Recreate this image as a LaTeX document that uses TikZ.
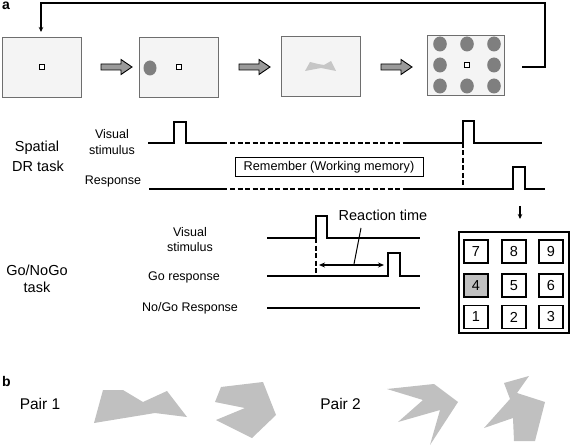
\documentclass[tikz,border=0pt]{standalone}
\usepackage{fontspec}
\setmainfont{Liberation Sans}
\usetikzlibrary{arrows.meta}
\definecolor{panelfill}{HTML}{F4F4F4}
\definecolor{paneldraw}{HTML}{6E6E6E}
\definecolor{dotgray}{HTML}{7F7F7F}
\definecolor{arrowgray}{HTML}{9A9A9A}
\definecolor{shapegray}{HTML}{C0C0C0}
\definecolor{blobgray}{HTML}{C6C6C6}
\newcommand\fsz[1]{\fontsize{#1}{#1}\selectfont}
\begin{document}
\begin{tikzpicture}[x=1pt,y=-1pt,
  panel/.style={draw=paneldraw,fill=panelfill,line width=0.8pt,minimum width=79pt,minimum height=60pt,inner sep=0pt,rectangle},
  fixsq/.style={draw=black,fill=white,line width=1pt,minimum size=4.5pt,inner sep=0pt,rectangle},
  dotc/.style={fill=dotgray},
  barrow/.pic={\draw[fill=arrowgray,line width=0.9pt,line join=miter] (0,-3) -- (20,-3) -- (20,-7.5) -- (31,0) -- (20,7.5) -- (20,3) -- (0,3) -- cycle;},
  wave/.style={line width=1.4pt,line join=miter},
  dashline/.style={dash pattern=on 5pt off 2.5pt},
  lbl/.style={inner sep=0pt,font=\fsz{12.5}},
  biglbl/.style={inner sep=0pt,font=\fsz{14.5}},
  key/.style={draw=black,line width=1.5pt,minimum width=24pt,minimum height=23pt,inner sep=0pt,font=\fsz{14.5}},
  tip/.style={-{Stealth[length=5pt,width=4.5pt]}}
]
\useasboundingbox (0,0) rectangle (572,446);
\fill[white] (0,0) rectangle (572,446);

% ---------- labels a / b
\node[anchor=base west,inner sep=0pt,font=\bfseries\fsz{14}] (la) at (2,10) {a};
\node[anchor=base west,inner sep=0pt,font=\bfseries\fsz{14}] (lb) at (2,386) {b};

% ---------- top row panels
\node[panel] (p1) at (42,67) {};
\node[panel] (p2) at (178.5,67) {};
\node[panel] (p3) at (320.5,66) {};
\node[panel,minimum width=77pt] (p4) at (465.5,65) {};

\node[fixsq] (f1) at (42,67) {};
\fill[dotc] (150,68) ellipse [x radius=6.5pt,y radius=7.5pt];
\node[fixsq] (f2) at (179,67) {};
\fill[blobgray] (305,71) -- (310,62) -- (318,64) -- (324,65) -- (331,61) -- (336,71) -- (321,68) -- cycle;
\foreach \cx in {440,467,494}{
  \foreach \cy in {44,65,86}{
    \ifnum\cx=467 \ifnum\cy=65 \else \fill[dotc] (\cx,\cy) ellipse [x radius=6.8pt,y radius=7.5pt]; \fi
    \else \fill[dotc] (\cx,\cy) ellipse [x radius=6.8pt,y radius=7.5pt]; \fi
  }
}
\node[fixsq] (f4) at (467,65) {};

\pic at (101,67) {barrow};
\pic at (239,67) {barrow};
\pic at (381,67) {barrow};

% feedback loop
\coordinate (fb0) at (522,67);
\coordinate (fb1) at (545,67);
\coordinate (fb2) at (545,3);
\coordinate (fb3) at (41,3);
\coordinate (fb4) at (41,32);
\draw[line width=1.1pt,tip] (fb0) -- (fb1) -- (fb2) -- (fb3) -- (fb4);

% ---------- Spatial DR task
\node[biglbl] (sp1) at (37,148) {Spatial};
\node[biglbl] (sp2) at (38,166) {DR task};
\node[lbl] (vs1) at (112,134) {Visual};
\node[lbl] (vs2) at (112,150) {stimulus};
\node[lbl] (rs1) at (113,181) {Response};

\draw[wave] (148,143) -- (174,143) -- (174,122) -- (186,122) -- (186,143) -- (227,143);
\draw[wave,dashline] (230,143) -- (405,143);
\draw[wave] (405,143) -- (463,143) -- (463,121) -- (474,121) -- (474,143) -- (542,143);
\draw[line width=1.1pt,dashline] (463,143) -- (463,189);

\draw[wave] (149,189) -- (227,189);
\draw[wave,dashline] (230,189) -- (405,189);
\draw[wave] (405,189) -- (513,189) -- (513,167) -- (525,167) -- (525,189) -- (545,189);

\node[draw,line width=1pt,minimum width=188pt,minimum height=19pt,inner sep=0pt,font=\fsz{12.7}] (rem) at (329,167.5) {Remember (Working memory)};

\coordinate (dn1) at (520,206);
\coordinate (dn2) at (520,219);
\draw[line width=1.1pt,tip] (dn1) -- (dn2);

% ---------- Go/NoGo task
\node[biglbl] (gn1) at (37,270) {Go/NoGo};
\node[biglbl] (gn2) at (37,287) {task};
\node[lbl] (gv1) at (190,232) {Visual};
\node[lbl] (gv2) at (190,247) {stimulus};
\node[lbl] (gr) at (184,277) {Go response};
\node[lbl] (ngr) at (190,308) {No/Go Response};

\draw[wave] (267,238) -- (316,238) -- (316,216) -- (327,216) -- (327,238) -- (420,238);
\draw[line width=1.1pt,dashline] (316,238) -- (316,276);
\draw[wave] (267,276) -- (388,276) -- (388,253) -- (400,253) -- (400,276) -- (420,276);
\draw[wave] (267,308) -- (420,308);

\coordinate (rt1) at (319,265);
\coordinate (rt2) at (384,265);
\draw[line width=1.1pt,{Stealth[length=6pt,width=5pt]}-{Stealth[length=6pt,width=5pt]}] (rt1) -- (rt2);
\node[inner sep=0pt,font=\fsz{14.5}] (rtl) at (383,215) {Reaction time};
\coordinate (co1) at (354,264);
\coordinate (co2) at (361,228);
\draw[line width=1pt] (co1) -- (co2);

% ---------- keypad
\node[draw,line width=1.4pt,minimum width=110pt,minimum height=101pt,inner sep=0pt] (pad) at (514,282.5) {};
\node[key] (k7) at (476,251.5) {7};
\node[key] (k8) at (514,251.5) {8};
\node[key] (k9) at (551,251.5) {9};
\node[key,fill=shapegray] (k4) at (476,285.5) {4};
\node[key] (k5) at (514,285.5) {5};
\node[key] (k6) at (551,285.5) {6};
\node[key] (k1) at (476,317) {1};
\node[key] (k2) at (514,317) {2};
\node[key] (k3) at (551,317) {3};

% ---------- b: shape pairs
\node[inner sep=0pt,font=\fsz{15.5}] (pr1) at (40,404) {Pair 1};
\node[anchor=east,inner sep=0pt,font=\fsz{15.5}] (pr2) at (361,404) {Pair 2};
\fill[shapegray] (94,423) -- (103,390) -- (123,390) -- (143,402) -- (167,391) -- (187,417) -- (155,413) -- cycle;
\fill[shapegray] (221,387) -- (263,382) -- (276,415) -- (252,438) -- (216,420) -- (245,408) -- (215,402) -- cycle;
\fill[shapegray] (387,389) -- (434,384) -- (458,402) -- (430,445) -- (440,410) -- (398,422) -- (423,400) -- cycle;
\fill[shapegray] (529,376) -- (504,383) -- (510,399) -- (484,428) -- (513,418) -- (514,441) -- (535,441) -- (545,402) -- (517,393) -- cycle;
\end{tikzpicture}
\end{document}
